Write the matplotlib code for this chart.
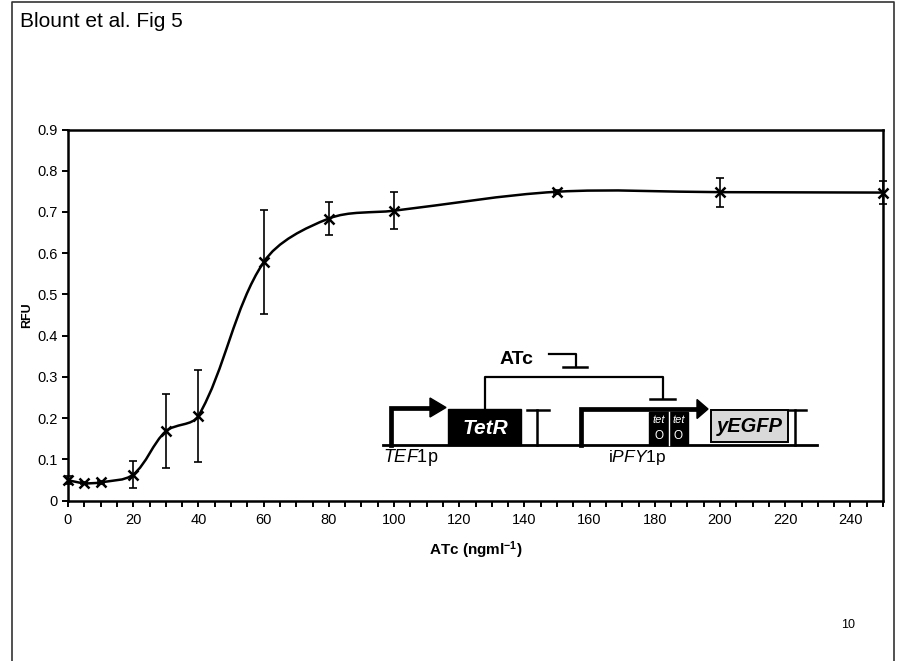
"""Blount et al. Fig 5 - ATc dose response"""

import matplotlib
matplotlib.use('Agg')
import matplotlib.pyplot as plt
from matplotlib.path import Path
from matplotlib.patches import PathPatch, Rectangle, Polygon

plt.rcParams['font.family'] = ['Liberation Sans', 'DejaVu Sans']
plt.rcParams['mathtext.fontset'] = 'custom'
plt.rcParams['mathtext.rm'] = 'Liberation Sans'
plt.rcParams['mathtext.it'] = 'Liberation Sans:italic'
plt.rcParams['mathtext.bf'] = 'Liberation Sans:bold'

# data
atc = [0, 5, 10, 20, 30, 40, 60, 80, 100, 150, 200, 250]
rfu = [0.049, 0.042, 0.044, 0.063, 0.168, 0.205, 0.578, 0.684, 0.703,
       0.749, 0.748, 0.747]
rfuErr = [0.01, 0.003, 0.003, 0.032, 0.09, 0.112, 0.126, 0.04, 0.045,
          0.005, 0.035, 0.027]
xTicks = list(range(0, 241, 20))
yTicks = [0, 0.1, 0.2, 0.3, 0.4, 0.5, 0.6, 0.7, 0.8, 0.9]
yTickLabels = ['0', '0.1', '0.2', '0.3', '0.4', '0.5', '0.6', '0.7', '0.8',
               '0.9']


def smoothPath(ax, xs, ys):
    """Excel-like smoothed line: bezier with handles scaled by the
    on-screen length of neighbouring segments"""
    pts = list(zip(xs, ys))
    scr = [tuple(p) for p in ax.transData.transform(pts)]
    n = len(pts)

    def dist(a, b):
        return ((scr[a][0] - scr[b][0]) ** 2
                + (scr[a][1] - scr[b][1]) ** 2) ** 0.5

    verts = [pts[0]]
    codes = [Path.MOVETO]
    for i in range(n - 1):
        i0, i1, i2, i3 = max(i - 1, 0), i, i + 1, min(i + 2, n - 1)
        d01, d12, d23 = dist(i0, i1), dist(i1, i2), dist(i2, i3)
        f1 = d12 / (d01 + d12) / 3
        f2 = d12 / (d12 + d23) / 3
        c1 = (pts[i1][0] + (pts[i2][0] - pts[i0][0]) * f1,
              pts[i1][1] + (pts[i2][1] - pts[i0][1]) * f1)
        c2 = (pts[i2][0] - (pts[i3][0] - pts[i1][0]) * f2,
              pts[i2][1] - (pts[i3][1] - pts[i1][1]) * f2)
        verts += [c1, c2, pts[i2]]
        codes += [Path.CURVE4] * 3
    return Path(verts, codes)


def main():
    """Main fonction"""
    fig = plt.figure(figsize=(9.02, 6.61), dpi=100)
    W, H = 902, 661

    ax = fig.add_axes([68 / W, 1 - 500.5 / H, 815 / W, 371 / H])
    ax.set_xlim(0, 250)
    ax.set_ylim(0, 0.9)

    ax.add_patch(PathPatch(smoothPath(ax, atc, rfu), fill=False,
                           edgecolor='black', lw=1.8, zorder=3))
    ax.errorbar(atc, rfu, yerr=rfuErr, fmt='none', ecolor='black',
                elinewidth=1.2, capsize=3, capthick=1.2, zorder=4,
                clip_on=False)
    ax.plot(atc, rfu, 'x', color='black', ms=7, mew=1.8, zorder=5,
            clip_on=False)

    ax.set_xticks(xTicks)
    ax.set_xticks(range(0, 251, 5), minor=True)
    ax.set_yticks(yTicks)
    ax.set_yticklabels(yTickLabels)
    ax.tick_params(which='both', direction='out', length=4, width=1.4,
                   labelsize=10.5, colors='black', color='black')
    ax.tick_params(axis='x', which='major', pad=5)
    for s in ax.spines.values():
        s.set_linewidth(1.8)
    ax.set_xlabel('ATc (ngml$^{\\mathbf{-1}}$)', fontsize=11,
                  fontweight='bold', labelpad=9)
    ax.set_ylabel('RFU', fontsize=9, fontweight='bold', labelpad=3)

    # overlay in pixel coords for page frame and construct diagram
    ov = fig.add_axes([0, 0, 1, 1], zorder=10)
    ov.set_xlim(0, W)
    ov.set_ylim(H, 0)
    ov.axis('off')

    ov.plot([12, 12, 894, 894], [H, 2, 2, H], color='#333333', lw=1.2)
    ov.text(20, 27, 'Blount et al. Fig 5', fontsize=15, ha='left',
            va='baseline')
    ov.text(848, 628, '10', fontsize=9, ha='center', va='baseline')

    k = 'black'
    # DNA line
    ov.plot([383, 817], [444.5, 444.5], color=k, lw=2)
    # TEF1p promoter arrow
    ov.plot([391, 391, 431], [444.5, 407.5, 407.5], color=k, lw=3.4,
            solid_joinstyle='miter')
    ov.add_patch(Polygon([(430, 398), (430, 417), (446, 407.5)],
                         closed=True, color=k))
    # TetR box
    ov.add_patch(Rectangle((448, 409), 73, 35.5, color=k))
    ov.text(485, 428, 'TetR', color='white', fontsize=15,
            fontweight='bold', style='italic', ha='center', va='center')
    # terminator 1
    ov.plot([536.5, 536.5], [444.5, 410], color=k, lw=1.8)
    ov.plot([527, 549], [410, 410], color=k, lw=1.8)
    # iPFY1p promoter arrow
    ov.plot([581, 581, 698], [444.5, 409, 409], color=k, lw=3.4,
            solid_joinstyle='miter')
    ov.add_patch(Polygon([(697, 399.5), (697, 418.5), (708, 409)],
                         closed=True, color=k))
    # tetO boxes
    ov.add_patch(Rectangle((648.5, 411.5), 39, 33, color=k))
    ov.plot([669, 669], [411.5, 444.5], color='white', lw=1)
    for cx in [658.7, 678.3]:
        ov.text(cx, 420, 'tet', color='white', fontsize=8,
                style='italic', ha='center', va='center')
        ov.text(cx, 436, 'O', color='white', fontsize=8.5, ha='center',
                va='center')
    # yEGFP box
    ov.add_patch(Rectangle((711, 410), 77, 32, facecolor='#d9d9d9',
                           edgecolor=k, lw=1.4))
    ov.text(749.5, 427, 'yEGFP', color=k, fontsize=14.5, fontweight='bold',
            style='italic', ha='center', va='center')
    # terminator 2
    ov.plot([795, 795], [444.5, 410], color=k, lw=1.8)
    ov.plot([789, 806], [410, 410], color=k, lw=1.8)
    # TetR repression
    ov.plot([485, 485, 663, 663], [409, 377, 377, 398], color=k, lw=1.6)
    ov.plot([650, 675], [399, 399], color=k, lw=1.8)
    # ATc inhibits TetR
    ov.text(517, 360, 'ATc', fontsize=14, fontweight='bold', ha='center',
            va='center')
    ov.plot([549, 576, 576], [353.5, 353.5, 366.5], color=k, lw=1.6)
    ov.plot([563, 587], [367, 367], color=k, lw=1.8)
    # labels
    ov.text(383, 462, '$\\mathit{TEF1}$p', fontsize=13, ha='left',
            va='baseline')
    ov.text(608, 462, 'i$\\mathit{PFY1}$p', fontsize=12.5, ha='left',
            va='baseline')

    fig.savefig('out.png', dpi=100)


if __name__ == "__main__":
    main()
